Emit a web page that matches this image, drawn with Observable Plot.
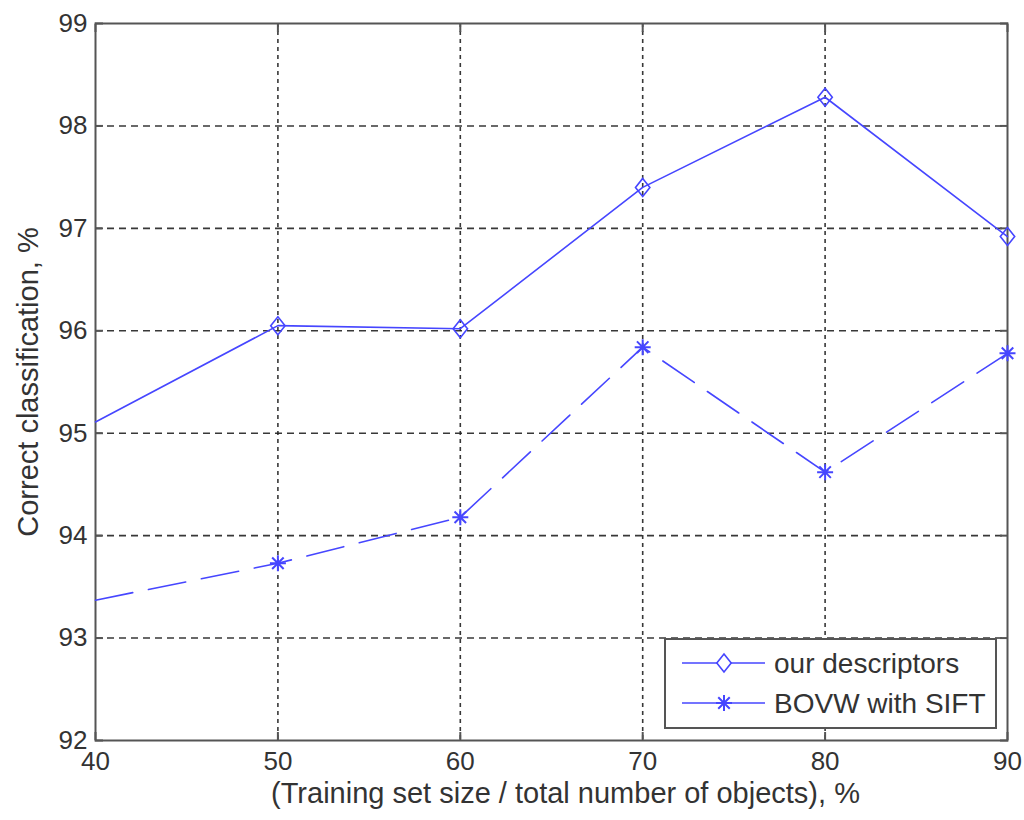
<!DOCTYPE html>
<html>
<head>
<meta charset="utf-8">
<script src="https://cdn.jsdelivr.net/npm/d3@7"></script>
<script src="https://cdn.jsdelivr.net/npm/@observablehq/plot@0.6"></script>
<style>
  html, body { margin: 0; padding: 0; background: #fff; }
  #chart { position: relative; width: 1024px; height: 820px; }
  svg { font-family: "Liberation Sans", Arial, sans-serif; }
</style>
</head>
<body>
<div id="chart"></div>
<script>
const trainingSize = [40, 50, 60, 70, 80, 90];
const ourDescriptors = [95.11, 96.05, 96.02, 97.40, 98.28, 96.92];
const bovwSift = [93.37, 93.73, 94.18, 95.84, 94.62, 95.78];
const xTicks = [40, 50, 60, 70, 80, 90];
const yTicks = [92, 93, 94, 95, 96, 97, 98, 99];
const seriesNames = ["our descriptors", "BOVW with SIFT"];
const xLabel = "(Training set size / total number of objects), %";
const yLabel = "Correct classification, %";

const ours = trainingSize.map((x, i) => ({x, y: ourDescriptors[i]}));
const bovw = trainingSize.map((x, i) => ({x, y: bovwSift[i]}));

const blue = "#4646ff";
const axisGray = "#555";
const textColor = "#333";

const diamond = {
  draw(ctx, size) {
    const r = Math.sqrt(size / Math.PI);
    ctx.moveTo(0, -r);
    ctx.lineTo(r * 0.8, 0);
    ctx.lineTo(0, r);
    ctx.lineTo(-r * 0.8, 0);
    ctx.closePath();
  }
};
const star = {
  draw(ctx, size) {
    const r = Math.sqrt(size / Math.PI);
    const d = r * 0.72;
    ctx.moveTo(-r, 0); ctx.lineTo(r, 0);
    ctx.moveTo(0, -r); ctx.lineTo(0, r);
    ctx.moveTo(-d, -d); ctx.lineTo(d, d);
    ctx.moveTo(-d, d); ctx.lineTo(d, -d);
  }
};

const plot = Plot.plot({
  width: 1024,
  height: 820,
  marginLeft: 95,
  marginRight: 17,
  marginTop: 23,
  marginBottom: 80,
  style: {fontFamily: "'Liberation Sans', Arial, sans-serif", background: "#fff"},
  x: {domain: [40, 90]},
  y: {domain: [92, 99]},
  marks: [
    Plot.gridY(yTicks.slice(1, -1), {stroke: "#222", strokeOpacity: 0.9, strokeWidth: 1.6, strokeDasharray: "7,5"}),
    Plot.gridX(xTicks.slice(1, -1), {stroke: "#222", strokeOpacity: 0.9, strokeWidth: 1.6, strokeDasharray: "4,4"}),
    Plot.axisX(xTicks, {anchor: "bottom", tickSize: -8, stroke: axisGray, strokeWidth: 2, text: null, label: null}),
    Plot.axisX(xTicks, {anchor: "top", tickSize: -8, stroke: axisGray, strokeWidth: 2, text: null, label: null}),
    Plot.axisY(yTicks, {anchor: "left", tickSize: -8, stroke: axisGray, strokeWidth: 2, text: null, label: null}),
    Plot.axisY(yTicks, {anchor: "right", tickSize: -8, stroke: axisGray, strokeWidth: 2, text: null, label: null}),
    Plot.axisX(xTicks, {anchor: "bottom", tickSize: 0, tickPadding: 11, fontSize: 26, fill: textColor, label: null, tickFormat: d3.format("d")}),
    Plot.axisY(yTicks, {anchor: "left", tickSize: 0, tickPadding: 8, fontSize: 26, fill: textColor, label: null, tickFormat: d3.format("d")}),
    Plot.frame({stroke: axisGray, strokeWidth: 2}),
    Plot.line(ours, {x: "x", y: "y", stroke: blue, strokeWidth: 1.6}),
    Plot.line(bovw, {x: "x", y: "y", stroke: blue, strokeWidth: 1.6, strokeDasharray: "38,16"}),
    Plot.dot(ours.filter(d => d.x > 40), {x: "x", y: "y", symbol: diamond, r: 9, stroke: blue, strokeWidth: 1.6, fill: "none"}),
    Plot.dot(bovw.filter(d => d.x > 40), {x: "x", y: "y", symbol: star, r: 8, stroke: blue, strokeWidth: 2, fill: "none"}),
    Plot.text([xLabel], {frameAnchor: "bottom", dy: 62, dx: 14, fontSize: 29, fill: textColor}),
    Plot.text([yLabel], {frameAnchor: "left", dx: -67, rotate: -90, textAnchor: "middle", fontSize: 29, fill: textColor})
  ]
});

// legend
const svg = d3.select(plot);
const lg = svg.append("g").attr("class", "legend");
lg.append("rect").attr("x", 665).attr("y", 639).attr("width", 331).attr("height", 89)
  .attr("fill", "#fff").attr("stroke", axisGray).attr("stroke-width", 2);
const rows = [663, 703];
seriesNames.forEach((name, i) => {
  const y = rows[i];
  lg.append("line").attr("x1", 682).attr("x2", 765).attr("y1", y).attr("y2", y)
    .attr("stroke", blue).attr("stroke-width", 1.6);
  const p = d3.path();
  (i === 0 ? diamond : star).draw(p, Math.PI * (i === 0 ? 81 : 64));
  lg.append("path").attr("d", p.toString()).attr("transform", `translate(724,${y})`)
    .attr("fill", i === 0 ? "#fff" : "none").attr("stroke", blue).attr("stroke-width", i === 0 ? 1.6 : 2);
  lg.append("text").attr("x", 774).attr("y", y).attr("dy", "0.35em")
    .attr("text-anchor", "start").style("font-size", "28px").attr("fill", textColor).text(name);
});

document.getElementById("chart").appendChild(plot);
</script>
</body>
</html>
